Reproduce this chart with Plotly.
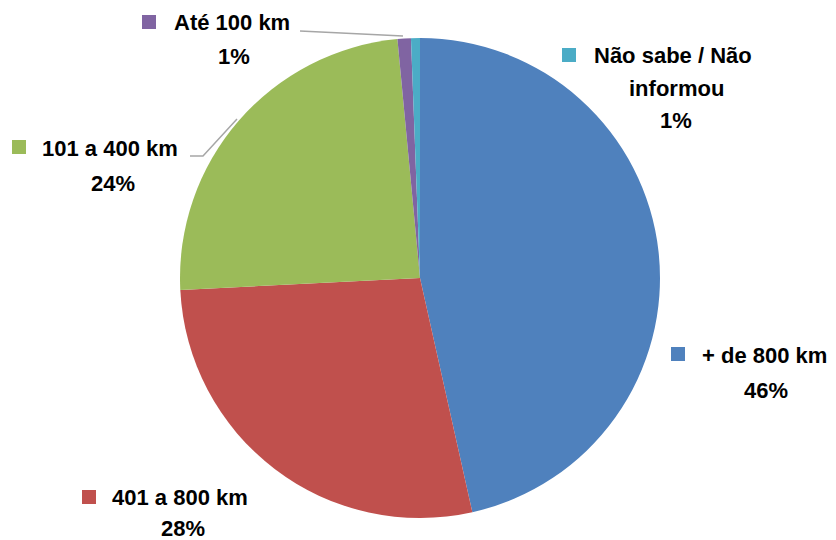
import plotly.graph_objects as go

W, H = 836, 540

# Data (clockwise from 12 o'clock)
categories = ["+ de 800 km", "401 a 800 km", "101 a 400 km", "Até 100 km", "Não sabe / Não informou"]
values = [46.5, 27.7, 24.3, 0.9, 0.6]
pct_labels = ["46%", "28%", "24%", "1%", "1%"]
colors = ["#4F81BD", "#C0504D", "#9BBB59", "#8064A2", "#4BACC6"]

cx, cy, r = 420, 278, 240

fig = go.Figure(go.Pie(
    labels=categories,
    values=values,
    sort=False,
    direction="clockwise",
    rotation=0,
    marker=dict(colors=colors, line=dict(width=0)),
    textinfo="none",
    hoverinfo="label+percent",
    showlegend=False,
    domain=dict(x=[(cx - r) / W, (cx + r) / W],
                y=[(H - cy - r) / H, (H - cy + r) / H]),
))

def px(x):
    return x / W

def py(y):
    return 1 - y / H

FONT = dict(family="Liberation Sans, Arial, sans-serif", size=22, color="#000000", weight="bold")

annotations = []
shapes = []

label_specs = [
    (0, ["+ de 800 km"], 700, 832, [355, 390], 671, 347),
    (1, ["401 a 800 km"], 110, 256, [497, 528], 82, 490),
    (2, ["101 a 400 km"], 40, 186, [148, 183], 12, 140),
    (3, ["Até 100 km"], 172, 297, [22, 57], 142, 15),
    (4, ["Não sabe / Não", "informou"], 592, 760, [55, 88, 120], 562, 48),
]

for idx, name_lines, tl, tr, ys, sqx, sqy in label_specs:
    center = (tl + tr) / 2
    lines = name_lines + [pct_labels[idx]]
    for i, (txt, y) in enumerate(zip(lines, ys)):
        if i == 0:
            annotations.append(dict(x=px(tl), y=py(y), xref="paper", yref="paper",
                                    text=txt, showarrow=False, xanchor="left", yanchor="middle",
                                    font=FONT))
        else:
            annotations.append(dict(x=px(center), y=py(y), xref="paper", yref="paper",
                                    text=txt, showarrow=False, xanchor="center", yanchor="middle",
                                    font=FONT))
    shapes.append(dict(type="rect", xref="paper", yref="paper",
                       x0=px(sqx), x1=px(sqx + 14), y0=py(sqy + 14), y1=py(sqy),
                       fillcolor=colors[idx], line=dict(width=0)))

# leader lines
line_style = dict(color="#A6A6A6", width=1.5)
shapes.append(dict(type="line", xref="paper", yref="paper",
                   x0=px(300), y0=py(31), x1=px(403), y1=py(36), line=line_style))
shapes.append(dict(type="path", xref="paper", yref="paper",
                   path=f"M {px(190)},{py(156)} L {px(203)},{py(156)} L {px(237)},{py(119)}",
                   line=line_style))

fig.update_layout(
    width=W, height=H,
    margin=dict(l=0, r=0, t=0, b=0),
    paper_bgcolor="white",
    plot_bgcolor="white",
    annotations=annotations,
    shapes=shapes,
)

fig.write_html("out.html",
               config={"displayModeBar": False},
               post_script="document.body.style.margin='0';document.body.style.overflow='hidden';")
